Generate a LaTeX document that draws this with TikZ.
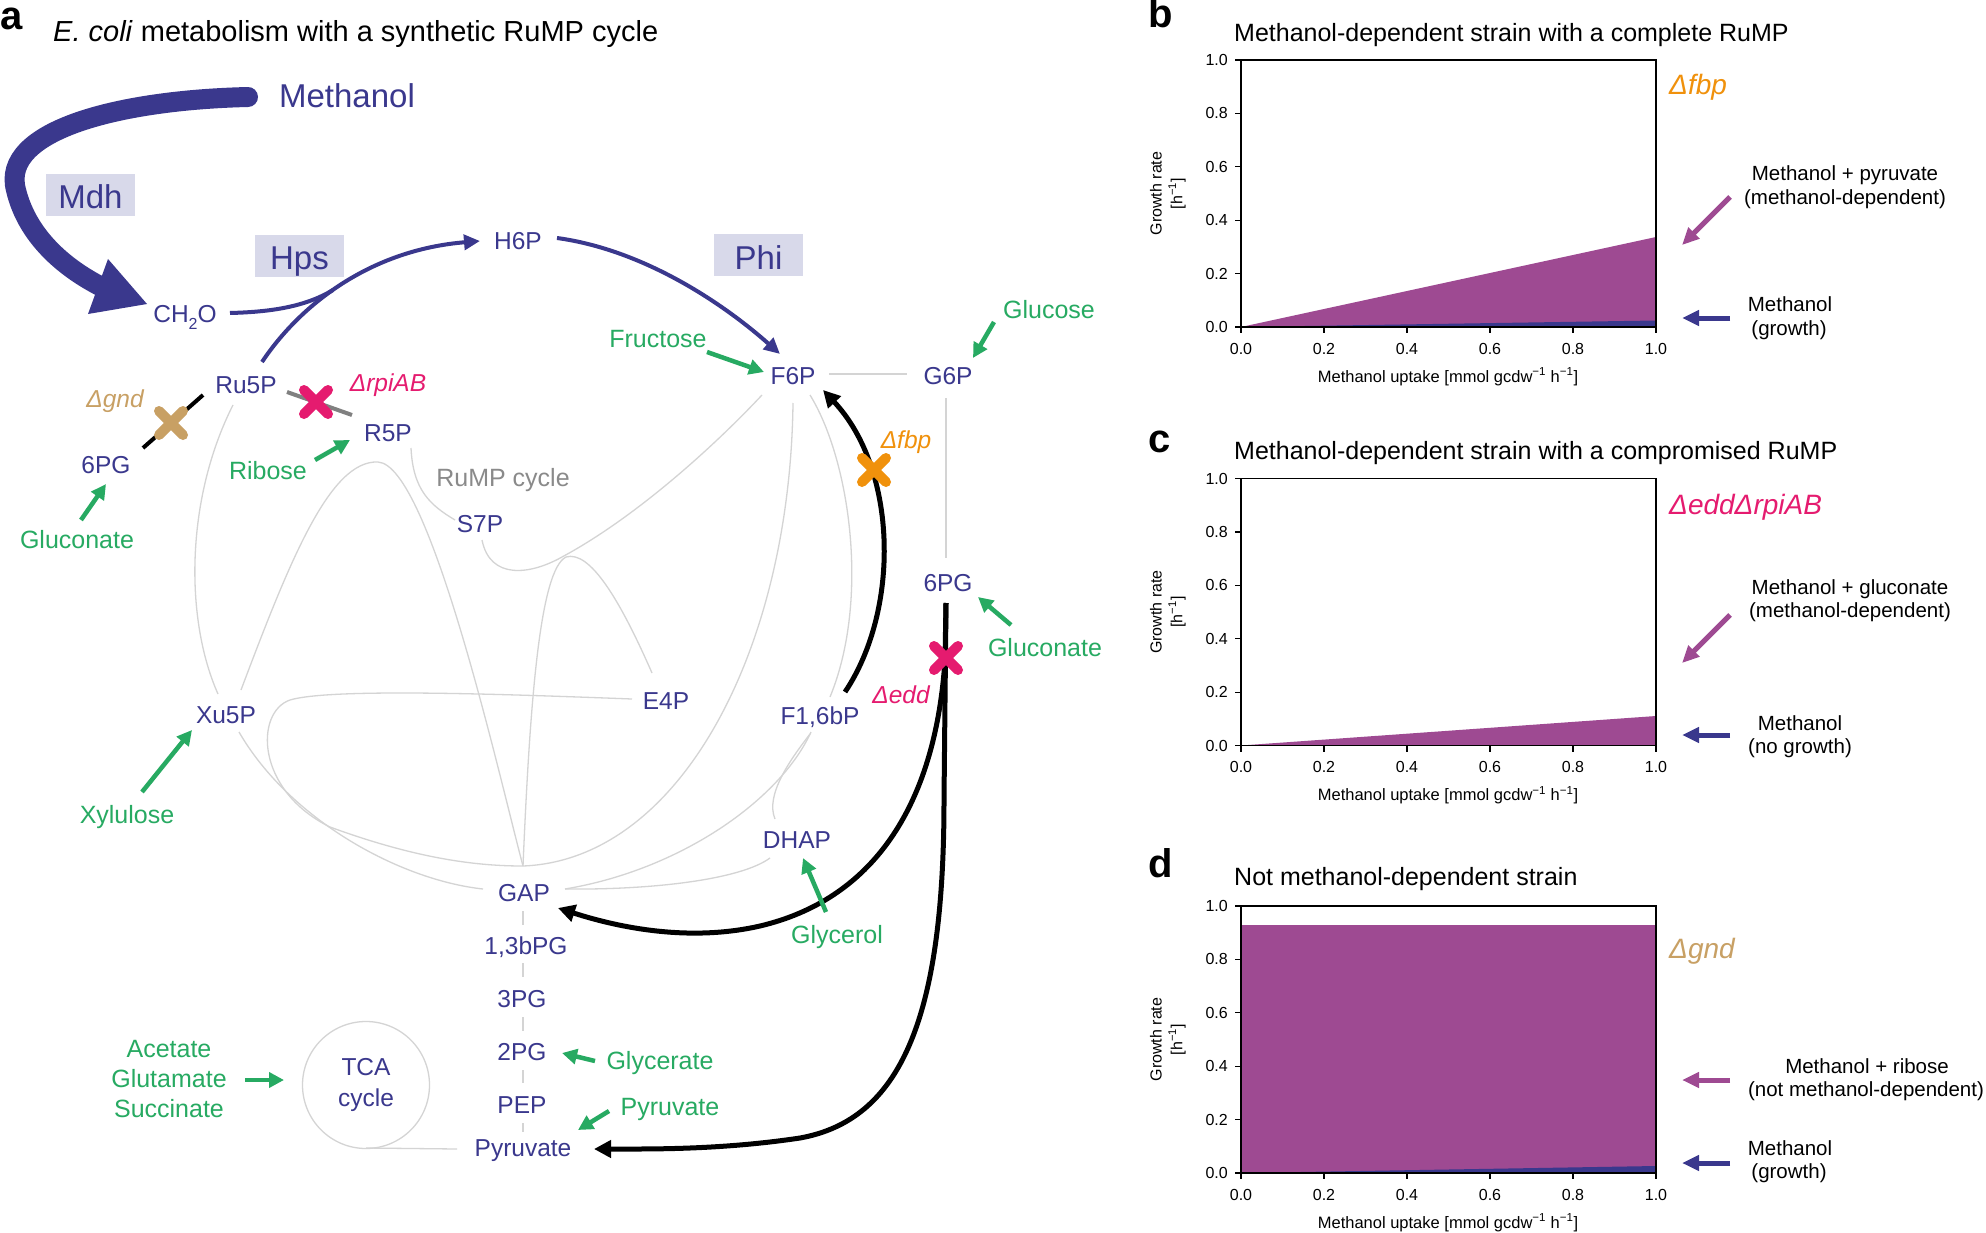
\documentclass[tikz,border=0pt]{standalone}
\usepackage{fontspec}
\setmainfont{Liberation Sans}
\usetikzlibrary{arrows.meta}
\definecolor{mblue}{RGB}{58,56,141}
\definecolor{mgreen}{RGB}{39,170,98}
\definecolor{mpink}{RGB}{229,27,111}
\definecolor{morange}{RGB}{240,145,12}
\definecolor{mtan}{RGB}{200,160,100}
\definecolor{boxfill}{RGB}{216,217,234}
\definecolor{lgray}{RGB}{212,212,212}
\definecolor{cycgray}{RGB}{138,138,138}
\definecolor{mpurple}{RGB}{158,74,146}
\definecolor{xgray}{RGB}{128,128,128}
\newcommand\fsz[1]{\fontsize{#1}{#1}\selectfont}
\tikzset{
  met/.style={text=mblue,inner sep=0pt,anchor=base,font=\fsz{24.5}},
  src/.style={text=mgreen,inner sep=0pt,anchor=base,font=\fsz{25}},
  del/.style={inner sep=0pt,anchor=base,font=\fsz{24.5}\itshape},
  enz/.style={fill=boxfill,text=mblue,font=\fsz{33},minimum width=89pt,minimum height=42pt,inner sep=0pt,text height=28pt,text depth=0pt},
  lline/.style={draw=lgray,line width=1.3pt},
  srcarr/.style={draw=mgreen,line width=4.5pt,-{Triangle[length=15pt,width=15pt]}},
  bluearr/.style={draw=mblue,line width=4pt,-{Triangle[length=16pt,width=15pt]}},
  blkarr/.style={draw=black,line width=5pt,-{Triangle[length=17pt,width=17pt]}},
  xmark/.style={line width=10pt,line cap=round},
  legarr/.style={line width=5pt,-{Triangle[length=17pt,width=15pt]}},
  panel/.style={font=\fsz{40}\bfseries,anchor=base west,inner sep=0pt},
  ptitle/.style={font=\fsz{25},anchor=base west,inner sep=0pt},
  tlab/.style={font=\fsz{16},inner sep=0pt},
  leg/.style={font=\fsz{20.5},anchor=base,inner sep=0pt},
  axline/.style={line width=1.2pt}
}
\begin{document}
\begin{tikzpicture}[x=1pt,y=-1pt]
\useasboundingbox (0,0) rectangle (1986,1233);
\fill[white] (0,0) rectangle (1986,1233);

% ---------------- panel a : texts ----------------
\node[panel] (pa) at (0,30) {a};
\node[anchor=base west,inner sep=0pt,font=\fsz{29}] (ta) at (53,42) {\textit{E. coli} metabolism with a synthetic RuMP cycle};

\node[text=mblue,inner sep=0pt,anchor=base,font=\fsz{33}] (methanol) at (347,108) {Methanol};
\node[enz] (mdh) at (90.5,195) {Mdh};
\node[enz] (hps) at (299.5,256) {Hps};
\node[enz] (phi) at (758.5,255.5) {Phi};
\node[met] (ch2o) at (185,323) {CH\raisebox{-0.28em}{\fsz{16}2}O};
\node[met] (h6p) at (518,250) {H6P};
\node[met] (f6p) at (793,384) {F6P};
\node[met] (g6p) at (948,384) {G6P};
\node[src] (glucose) at (1049,319) {Glucose};
\node[src] (fructose) at (658,347) {Fructose};
\node[met] (ru5p) at (246,393) {Ru5P};
\node[del,text=mpink] (drpiab) at (388,391) {ΔrpiAB};
\node[del,text=mtan] (dgnd) at (115,407) {Δgnd};
\node[met] (r5p) at (388,441) {R5P};
\node[met] (pgl) at (106,473) {6PG};
\node[src] (gluconl) at (77,548) {Gluconate};
\node[src] (ribose) at (268,479) {Ribose};
\node[text=cycgray,inner sep=0pt,anchor=base,font=\fsz{25}] (rump) at (503,486) {RuMP cycle};
\node[met] (s7p) at (480,532) {S7P};
\node[del,text=morange] (dfbp) at (906,448) {Δfbp};
\node[met] (pgr) at (948,591) {6PG};
\node[src] (gluconr) at (1045,656) {Gluconate};
\node[del,text=mpink] (dedd) at (901,703) {Δedd};
\node[met] (xu5p) at (226,723) {Xu5P};
\node[met] (e4p) at (666,709) {E4P};
\node[met] (f16bp) at (820,724) {F1,6bP};
\node[src] (xylulose) at (127,823) {Xylulose};
\node[met] (dhap) at (797,848) {DHAP};
\node[src] (glycerol) at (837,943) {Glycerol};
\node[met] (gap) at (524,901) {GAP};
\node[met] (bpg) at (526,954) {1,3bPG};
\node[met] (pg3) at (522,1007) {3PG};
\node[met] (pg2) at (522,1060) {2PG};
\node[met] (pep) at (522,1113) {PEP};
\node[met] (pyr) at (523,1156) {Pyruvate};
\node[src] (glycerate) at (660,1069) {Glycerate};
\node[src] (pyrsrc) at (670,1115) {Pyruvate};
\node[text=mgreen,inner sep=0pt,align=center,font=\fontsize{25}{30}\selectfont] (subs) at (169,1079) {Acetate\\Glutamate\\Succinate};
\node[circle,draw=lgray,line width=1.3pt,minimum size=127pt,inner sep=0pt,align=center,text=mblue,font=\fontsize{24.5}{31}\selectfont] (tca) at (366,1085) {TCA\\cycle};

% ---------------- connector end points ----------------
\coordinate (ru5p-s) at (233,405);  \coordinate (xu5p-n) at (218,694);
\coordinate (xu5p-ne) at (241,690); \coordinate (gap-n) at (523,866);
\coordinate (r5p-s) at (411,448);   \coordinate (s7p-w) at (455,520);
\coordinate (s7p-s) at (482,540);   \coordinate (f6p-sw) at (762,395);
\coordinate (e4p-nw) at (652,673);  \coordinate (e4p-w) at (632,699);
\coordinate (f6p-s) at (793,403);   \coordinate (xu5p-s) at (239,732);
\coordinate (gap-w) at (483,889);   \coordinate (gap-e) at (565,889);
\coordinate (f16bp-sw) at (811,732);\coordinate (dhap-sw) at (770,858);
\coordinate (dhap-n) at (775,819);  \coordinate (f16bp-s) at (810,734);
\coordinate (f6p-se) at (810,395);  \coordinate (f16bp-n) at (830,697);
\coordinate (f6p-e) at (829,374);   \coordinate (g6p-w) at (907,374);
\coordinate (g6p-s) at (946,398);   \coordinate (pgr-n) at (946,558);
\coordinate (tca-s) at (366,1148);  \coordinate (pyr-w) at (457,1149);

% ---------------- grey network ----------------
\draw[lline] (ru5p-s) .. controls (185,500) and (185,620) .. (xu5p-n);
\draw[lline] (xu5p-ne) .. controls (290,560) and (330,460) .. (378,462) .. controls (430,465) and (500,780) .. (gap-n);
\draw[lline] (r5p-s) .. controls (413,490) and (430,505) .. (s7p-w);
\draw[lline] (s7p-s) .. controls (490,580) and (530,575) .. (562,557) .. controls (640,515) and (720,440) .. (f6p-sw);
\draw[lline] (gap-n) .. controls (530,700) and (540,570) .. (566,557) .. controls (590,550) and (620,600) .. (e4p-nw);
\draw[lline] (e4p-w) .. controls (500,694) and (330,688) .. (290,700) .. controls (255,712) and (255,790) .. (330,827) .. controls (420,860) and (480,866) .. (gap-n) .. controls (680,860) and (790,650) .. (f6p-s);
\draw[lline] (xu5p-s) .. controls (290,820) and (400,880) .. (gap-w);
\draw[lline] (gap-e) .. controls (680,870) and (780,800) .. (f16bp-sw);
\draw[lline] (gap-e) .. controls (650,890) and (740,880) .. (dhap-sw);
\draw[lline] (dhap-n) .. controls (765,795) and (790,760) .. (f16bp-s);
\draw[lline] (f6p-se) .. controls (850,460) and (870,600) .. (f16bp-n);
\draw[lline] (f6p-e) -- (g6p-w);
\draw[lline] (g6p-s) -- (pgr-n);
\draw[lline] (523,911) -- (523,925);
\draw[lline] (523,963) -- (523,977);
\draw[lline] (523,1017) -- (523,1031);
\draw[lline] (523,1070) -- (523,1083);
\draw[lline] (523,1123) -- (523,1132);
\draw[lline] (tca-s) -- (pyr-w);

% ---------------- methanol oxidation ----------------
\coordinate (meoh-w) at (248,97);
\coordinate (ch2o-nw) at (108,290);
\draw[mblue,line width=20pt,line cap=round] (meoh-w) .. controls (120,100) and (0,130) .. (16,190) .. controls (28,240) and (70,272) .. (ch2o-nw);
\fill[mblue] (88,314) -- (108,259) -- (147,304) -- cycle;

% ---------------- blue RuMP arrows ----------------
\coordinate (ru5p-n) at (262,362);  \coordinate (h6p-w) at (480,241);
\coordinate (ch2o-e) at (230,313);  \coordinate (hps-join) at (333,290);
\coordinate (h6p-e) at (557,238);   \coordinate (f6p-n) at (780,354);
\draw[bluearr] (ru5p-n) .. controls (300,305) and (370,250) .. (h6p-w);
\draw[mblue,line width=4pt] (ch2o-e) .. controls (270,312) and (305,307) .. (hps-join);
\draw[bluearr] (h6p-e) .. controls (645,250) and (725,305) .. (f6p-n);

% ---------------- black arrows ----------------
\coordinate (f16bp-ne) at (845,692); \coordinate (f6p-ne) at (823,390);
\coordinate (pgr-s) at (946,603);    \coordinate (gap-ne) at (558,908);
\coordinate (pyr-e) at (594,1149);
\draw[blkarr] (f16bp-ne) .. controls (900,610) and (898,470) .. (f6p-ne);
\draw[blkarr] (pgr-s) -- (945,660) .. controls (935,810) and (870,900) .. (760,926) .. controls (690,942) and (620,928) .. (gap-ne);
\draw[blkarr] (pgr-s) -- (944,800) .. controls (944,1020) and (900,1120) .. (800,1138) .. controls (720,1150) and (650,1149) .. (pyr-e);

% ---------------- deletions ----------------
\coordinate (pgl-ne) at (143,448); \coordinate (ru5p-sw) at (203,395);
\draw[black,line width=4pt] (pgl-ne) -- (ru5p-sw);
\coordinate (ru5p-e) at (287,392); \coordinate (r5p-nw) at (352,415);
\draw[xgray,line width=4pt] (ru5p-e) -- (r5p-nw);
\draw[xmark,mtan] (159,411) -- (183,435) (159,435) -- (183,411);
\draw[xmark,mpink] (304,390) -- (328,414) (304,414) -- (328,390);
\draw[xmark,morange] (862,458) -- (886,482) (862,482) -- (886,458);
\draw[xmark,mpink] (934,646) -- (958,670) (934,670) -- (958,646);

% ---------------- substrate arrows ----------------
\coordinate (glucose-s) at (994,322);  \coordinate (g6p-n) at (973,358);
\coordinate (fructose-e) at (707,352); \coordinate (f6p-w) at (764,372);
\coordinate (gluconl-n) at (81,520);   \coordinate (pgl-s) at (106,484);
\coordinate (ribose-e) at (315,460);   \coordinate (r5p-w) at (350,440);
\coordinate (gluconr-n) at (1011,625); \coordinate (pgr-e) at (978,597);
\coordinate (xylulose-n) at (142,792); \coordinate (xu5p-sw) at (192,730);
\coordinate (glycerol-n) at (826,912); \coordinate (dhap-s) at (803,858);
\coordinate (glycerate-w) at (595,1061); \coordinate (pg2-e) at (562,1053);
\coordinate (pyrsrc-w) at (609,1111);  \coordinate (pyr-ne) at (578,1130);
\coordinate (subs-e) at (245,1080);    \coordinate (tca-w) at (284,1080);
\draw[srcarr] (glucose-s) -- (g6p-n);
\draw[srcarr] (fructose-e) -- (f6p-w);
\draw[srcarr] (gluconl-n) -- (pgl-s);
\draw[srcarr] (ribose-e) -- (r5p-w);
\draw[srcarr] (gluconr-n) -- (pgr-e);
\draw[srcarr] (xylulose-n) -- (xu5p-sw);
\draw[srcarr] (glycerol-n) -- (dhap-s);
\draw[srcarr] (glycerate-w) -- (pg2-e);
\draw[srcarr] (pyrsrc-w) -- (pyr-ne);
\draw[srcarr] (subs-e) -- (tca-w);

% ---------------- panels b, c, d ----------------
\node[panel] (pb) at (1148,28) {b};
\node[ptitle] (tb) at (1234,42) {Methanol-dependent strain with a complete RuMP};
\node[panel] (pc) at (1148,452) {c};
\node[ptitle] (tc) at (1234,459) {Methanol-dependent strain with a compromised RuMP};
\node[panel] (pd) at (1148,877) {d};
\node[ptitle] (td) at (1234,885) {Not methanol-dependent strain};

% fills
\fill[mpurple] (1241,327) -- (1656,237) -- (1656,327) -- cycle;
\fill[mblue] (1241,327) -- (1656,320.5) -- (1656,327) -- cycle;
\fill[mpurple] (1241,745.5) -- (1656,716) -- (1656,745.5) -- cycle;
\fill[mpurple] (1241,1173) rectangle (1656,925);
\fill[mblue] (1241,1173) -- (1656,1166) -- (1656,1173) -- cycle;

\foreach \B/\n in {327/b,745.5/c,1173/d}{
  \draw[axline] (1241,{\B-267}) rectangle (1656,\B);
  \foreach \v/\lab in {0/0.0,1/0.2,2/0.4,3/0.6,4/0.8,5/1.0}{
    \draw[axline] (1241,{\B-\v*53.4}) -- (1235,{\B-\v*53.4});
    \node[tlab,anchor=east] (yt\n\v) at (1228,{\B-\v*53.4}) {\lab};
    \draw[axline] ({1241+\v*83},\B) -- ({1241+\v*83},{\B+6});
    \node[tlab,anchor=base] (xt\n\v) at ({1241+\v*83},{\B+27}) {\lab};
  }
  \node[inner sep=0pt,font=\fsz{16.5},anchor=base] (xa\n) at (1448,{\B+55}) {Methanol uptake [mmol gcdw\textsuperscript{−1} h\textsuperscript{−1}]};
  \node[rotate=90,font=\fsz{16},inner sep=0pt] (ya\n) at (1156,{\B-133.5}) {Growth rate};
  \node[rotate=90,font=\fsz{16},inner sep=0pt] (yb\n) at (1177,{\B-133.5}) {[h\textsuperscript{−1}]};
}

% strain labels
\node[font=\fsz{28}\itshape,text=morange,anchor=base west,inner sep=0pt] (sb) at (1669,95) {Δfbp};
\node[font=\fsz{28}\itshape,text=mpink,anchor=base west,inner sep=0pt] (sc) at (1669,514) {ΔeddΔrpiAB};
\node[font=\fsz{28}\itshape,text=mtan,anchor=base west,inner sep=0pt] (sd) at (1669,958) {Δgnd};

% legends b
\node[leg] (lb1) at (1845,181) {Methanol + pyruvate};
\node[leg] (lb2) at (1845,205) {(methanol-dependent)};
\node[leg] (lb3) at (1790,312) {Methanol};
\node[leg] (lb4) at (1789,335) {(growth)};
\coordinate (lb1-a) at (1730,197); \coordinate (plb-a) at (1682,245);
\coordinate (lb3-a) at (1730,318); \coordinate (plb-b) at (1682,318);
\draw[legarr,mpurple] (lb1-a) -- (plb-a);
\draw[legarr,mblue] (lb3-a) -- (plb-b);
% legends c
\node[leg] (lc1) at (1850,594) {Methanol + gluconate};
\node[leg] (lc2) at (1850,617) {(methanol-dependent)};
\node[leg] (lc3) at (1800,730) {Methanol};
\node[leg] (lc4) at (1800,753) {(no growth)};
\coordinate (lc1-a) at (1730,615); \coordinate (plc-a) at (1682,663);
\coordinate (lc3-a) at (1730,735); \coordinate (plc-b) at (1682,735);
\draw[legarr,mpurple] (lc1-a) -- (plc-a);
\draw[legarr,mblue] (lc3-a) -- (plc-b);
% legends d
\node[leg] (ld1) at (1867,1073) {Methanol + ribose};
\node[leg] (ld2) at (1866,1096) {(not methanol-dependent)};
\node[leg] (ld3) at (1790,1155) {Methanol};
\node[leg] (ld4) at (1789,1178) {(growth)};
\coordinate (ld1-a) at (1730,1080); \coordinate (pld-a) at (1682,1080);
\coordinate (ld3-a) at (1730,1163); \coordinate (pld-b) at (1682,1163);
\draw[legarr,mpurple] (ld1-a) -- (pld-a);
\draw[legarr,mblue] (ld3-a) -- (pld-b);
\end{tikzpicture}
\end{document}
